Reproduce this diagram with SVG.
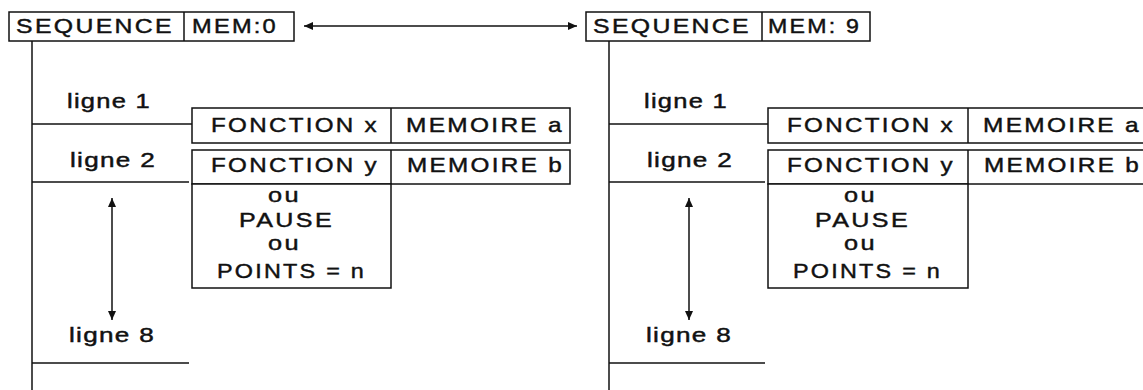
<svg xmlns="http://www.w3.org/2000/svg" width="1143" height="390" viewBox="0 0 1143 390">
<style>
.box{fill:#fff;stroke:#111;stroke-width:1.5}
.ln{fill:none;stroke:#111;stroke-width:1.5}
.t{font-family:"Liberation Sans",Arial,sans-serif;font-size:21px;letter-spacing:2px;fill:#111;stroke:#111;stroke-width:0.45}
.s{font-size:20px;letter-spacing:1px}
</style>
<defs>
<marker id="ah" viewBox="0 0 9 8" refX="9" refY="4" markerWidth="9" markerHeight="8" markerUnits="userSpaceOnUse" orient="auto-start-reverse">
<path d="M0,0 L9,4 L0,8 z" fill="#111"/>
</marker>
</defs>
<rect width="1143" height="390" fill="#fff"/>

<g id="connectors">
<line class="ln" x1="304" y1="26" x2="577" y2="26" marker-start="url(#ah)" marker-end="url(#ah)"/>
<line class="ln" x1="32" y1="41" x2="32" y2="390"/>
<line class="ln" x1="32" y1="124" x2="192" y2="124"/>
<line class="ln" x1="32" y1="182" x2="189" y2="182"/>
<line class="ln" x1="32" y1="363" x2="189" y2="363"/>
<line class="ln" x1="112" y1="198" x2="112" y2="320" marker-start="url(#ah)" marker-end="url(#ah)"/>
<g transform="translate(577,0)">
<line class="ln" x1="32" y1="41" x2="32" y2="390"/>
<line class="ln" x1="32" y1="124" x2="191" y2="124"/>
<line class="ln" x1="32" y1="182" x2="188" y2="182"/>
<line class="ln" x1="32" y1="363" x2="188" y2="363"/>
<line class="ln" x1="112" y1="198" x2="112" y2="320" marker-start="url(#ah)" marker-end="url(#ah)"/>
</g>
</g>

<g id="seq-left">
<rect class="box" x="9" y="12" width="285" height="29"/>
<line class="ln" x1="184" y1="12" x2="184" y2="41"/>
<text class="t" x="16" y="33" textLength="158" lengthAdjust="spacingAndGlyphs">SEQUENCE</text>
<text class="t" x="192" y="33" textLength="86" lengthAdjust="spacingAndGlyphs">MEM:0</text>
</g>

<g id="labels-left">
<text class="t s" x="67" y="108" textLength="84" lengthAdjust="spacingAndGlyphs">ligne 1</text>
<text class="t s" x="70" y="167" textLength="86" lengthAdjust="spacingAndGlyphs">ligne 2</text>
<text class="t s" x="69" y="342" textLength="86" lengthAdjust="spacingAndGlyphs">ligne 8</text>
</g>

<g id="line1-left">
<rect class="box" x="192" y="108" width="378" height="35"/>
<line class="ln" x1="391" y1="108" x2="391" y2="143"/>
<text class="t" x="211" y="132" textLength="168" lengthAdjust="spacingAndGlyphs">FONCTION x</text>
<text class="t" x="406" y="132" textLength="158" lengthAdjust="spacingAndGlyphs">MEMOIRE a</text>
</g>

<g id="line2-left">
<rect class="box" x="192" y="150" width="378" height="34"/>
<line class="ln" x1="391" y1="150" x2="391" y2="184"/>
<rect class="box" x="192" y="184" width="199" height="104"/>
<text class="t" x="211" y="172" textLength="168" lengthAdjust="spacingAndGlyphs">FONCTION y</text>
<text class="t" x="407" y="172" textLength="157" lengthAdjust="spacingAndGlyphs">MEMOIRE b</text>
<text class="t" x="268" y="202" textLength="33" lengthAdjust="spacingAndGlyphs">ou</text>
<text class="t" x="239" y="227" textLength="95" lengthAdjust="spacingAndGlyphs">PAUSE</text>
<text class="t" x="268" y="250" textLength="33" lengthAdjust="spacingAndGlyphs">ou</text>
<text class="t" x="217" y="278" textLength="149" lengthAdjust="spacingAndGlyphs">POINTS = n</text>
</g>

<g id="seq-right">
<rect class="box" x="586" y="12" width="284" height="29"/>
<line class="ln" x1="762" y1="12" x2="762" y2="41"/>
<text class="t" x="593" y="33" textLength="158" lengthAdjust="spacingAndGlyphs">SEQUENCE</text>
<text class="t" x="768" y="33" textLength="93" lengthAdjust="spacingAndGlyphs">MEM: 9</text>
</g>

<g transform="translate(577,0)">
<g id="labels-right">
<text class="t s" x="67" y="108" textLength="84" lengthAdjust="spacingAndGlyphs">ligne 1</text>
<text class="t s" x="70" y="167" textLength="86" lengthAdjust="spacingAndGlyphs">ligne 2</text>
<text class="t s" x="69" y="342" textLength="86" lengthAdjust="spacingAndGlyphs">ligne 8</text>
</g>
<g id="line1-right">
<rect class="box" x="191" y="108" width="378" height="35"/>
<line class="ln" x1="391" y1="108" x2="391" y2="143"/>
<text class="t" x="210" y="132" textLength="168" lengthAdjust="spacingAndGlyphs">FONCTION x</text>
<text class="t" x="406" y="132" textLength="158" lengthAdjust="spacingAndGlyphs">MEMOIRE a</text>
</g>
<g id="line2-right">
<rect class="box" x="191" y="150" width="378" height="34"/>
<line class="ln" x1="391" y1="150" x2="391" y2="184"/>
<rect class="box" x="191" y="184" width="200" height="104"/>
<text class="t" x="210" y="172" textLength="168" lengthAdjust="spacingAndGlyphs">FONCTION y</text>
<text class="t" x="407" y="172" textLength="157" lengthAdjust="spacingAndGlyphs">MEMOIRE b</text>
<text class="t" x="267" y="202" textLength="33" lengthAdjust="spacingAndGlyphs">ou</text>
<text class="t" x="238" y="227" textLength="95" lengthAdjust="spacingAndGlyphs">PAUSE</text>
<text class="t" x="267" y="250" textLength="33" lengthAdjust="spacingAndGlyphs">ou</text>
<text class="t" x="216" y="278" textLength="149" lengthAdjust="spacingAndGlyphs">POINTS = n</text>
</g>
</g>
</svg>
